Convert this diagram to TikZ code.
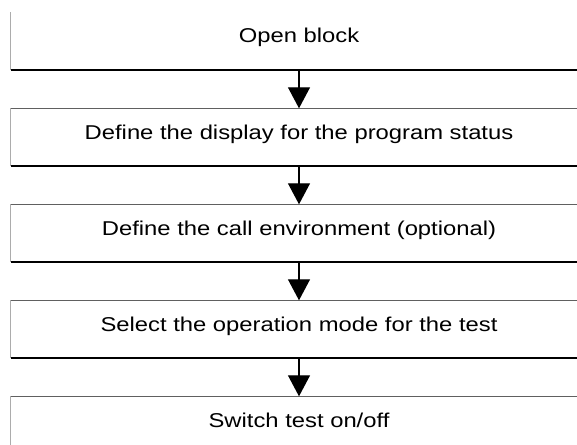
\documentclass[tikz,border=0pt]{standalone}
\usepackage{fontspec}
\setmainfont{Liberation Sans}[FakeStretch=1.19]
\usetikzlibrary{arrows.meta}
\begin{document}
\begin{tikzpicture}[x=1pt, y=-1pt, every node/.style={font=\fontsize{20}{24}\selectfont},
  stage/.style={minimum width=576pt, minimum height=57pt, inner sep=0pt, text height=14pt, text depth=10pt},
  topline/.style={gray!75!black, line width=1.6pt},
  botline/.style={black, line width=1.6pt},
  sideline/.style={gray!65, line width=1pt},
  flow/.style={line width=1.2pt, -{Triangle[width=22pt, length=21pt]}}]
  \useasboundingbox (0,0) rectangle (577,444);
  % Steps
  \foreach \t [count=\i] in {Open block, Define the display for the program status,
      Define the call environment (optional), Select the operation mode for the test,
      Switch test on/off} {
    \node[stage] (s\i) at (299,41+\i*96-96) {\t};
    \draw[sideline] (s\i.north west) -- (s\i.south west);
  }
  % Borders
  \foreach \i in {2,3,4,5} {
    \draw[topline] (s\i.north west) -- (s\i.north east);
  }
  \foreach \i in {1,2,3,4} {
    \draw[botline] (s\i.south west) -- (s\i.south east);
  }
  % Arrows
  \foreach \i [evaluate=\i as \j using int(\i+1)] in {1,2,3,4} {
    \draw[flow] (s\i.south) -- (s\j.north);
  }
\end{tikzpicture}
\end{document}
